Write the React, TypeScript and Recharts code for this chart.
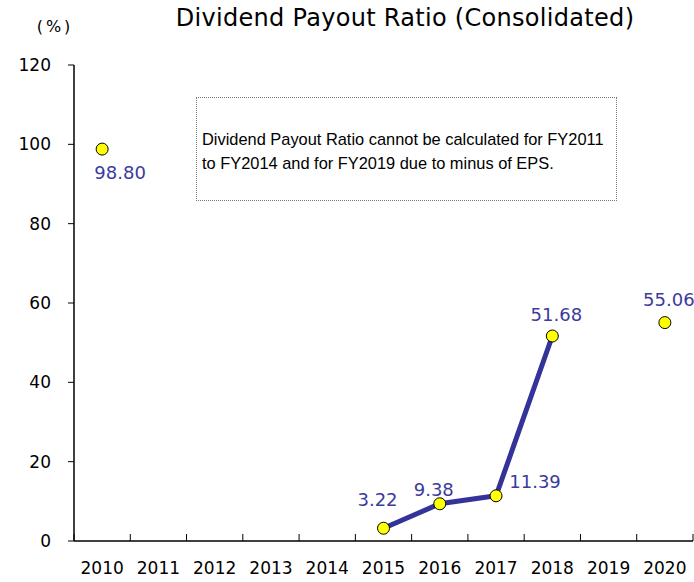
import React from 'react';
import { LineChart, Line, XAxis, YAxis, LabelList } from 'recharts';

const years = ['2010', '2011', '2012', '2013', '2014', '2015', '2016', '2017', '2018', '2019', '2020'];
const payoutRatio: (number | null)[] = [98.8, null, null, null, null, 3.22, 9.38, 11.39, 51.68, null, 55.06];
const payoutLabels = ['98.80', '', '', '', '', '3.22', '9.38', '11.39', '51.68', '', '55.06'];
const yTicks = [0, 20, 40, 60, 80, 100, 120];

// label placement relative to each point (styling, not data)
const labelOffsets: [number, number][] = [
  [18, 23], [0, 0], [0, 0], [0, 0], [0, 0],
  [-6, -29], [-6, -14], [39, -14], [4, -22], [0, 0], [4, -23],
];

const data = years.map((y, i) => ({ year: y, value: payoutRatio[i], label: payoutLabels[i] }));

const TICK_FONT = 'DejaVu Sans, sans-serif';

const XTick = (props: any) => {
  const { x, y, payload, index } = props;
  const half = payload && payload.offset ? payload.offset : 28;
  const axisY = y - 8;
  return (
    <g>
      <line x1={x - half} x2={x - half} y1={axisY} y2={axisY - 7} stroke="#000" strokeWidth={1} />
      {index === years.length - 1 && (
        <line x1={x + half} x2={x + half} y1={axisY} y2={axisY - 7} stroke="#000" strokeWidth={1} />
      )}
      <text x={x} y={axisY + 27} textAnchor="middle" dominantBaseline="central" fontFamily={TICK_FONT} fontSize={17} fill="#000">
        {payload.value}
      </text>
    </g>
  );
};

const renderLabel = (props: any) => {
  const { x, y, index } = props;
  const txt = payoutLabels[index];
  if (!txt || payoutRatio[index] == null) return null;
  const [dx, dy] = labelOffsets[index];
  return (
    <text x={x + dx} y={y + dy} textAnchor="middle" dominantBaseline="central" fontFamily={TICK_FONT} fontSize={18} fill="#3b3b9e">
      {txt}
    </text>
  );
};

export default function App() {
  return (
    <div style={{ position: 'absolute', left: 0, top: 0, width: 694, height: 582, background: '#fff' }}>
      <div style={{ position: 'absolute', left: 0, width: 810, top: 2, textAlign: 'center', fontFamily: TICK_FONT, fontSize: 24, letterSpacing: 0.3, color: '#000', lineHeight: '32px' }}>
        Dividend Payout Ratio (Consolidated)
      </div>
      <div style={{ position: 'absolute', left: 0, width: 110, top: 14, textAlign: 'center', fontFamily: TICK_FONT, fontSize: 16, letterSpacing: 3, color: '#000', lineHeight: '26px' }}>
        (%)
      </div>
      <LineChart width={694} height={582} data={data} margin={{ top: 65, right: 1, bottom: 0, left: 0 }}>
        <XAxis dataKey="year" type="category" scale="band" height={41} axisLine={{ stroke: '#000', strokeWidth: 1.5 }} tickLine={false} tick={<XTick />} interval={0} />
        <YAxis
          type="number"
          domain={[0, 120]}
          ticks={yTicks}
          width={74}
          axisLine={{ stroke: '#000', strokeWidth: 1.5 }}
          tickLine={{ stroke: '#000' }}
          tickSize={6}
          tickMargin={17}
          tick={{ fontFamily: TICK_FONT, fontSize: 17, fill: '#000' }}
          interval={0}
        />
        <Line
          dataKey="value"
          stroke="#333399"
          strokeWidth={5}
          dot={{ r: 6, fill: '#ffff00', stroke: '#000', strokeWidth: 1 }}
          activeDot={false}
          isAnimationActive={false}
        >
          <LabelList dataKey="value" content={renderLabel} />
        </Line>
      </LineChart>
      <div
        style={{
          position: 'absolute', left: 196, top: 97, width: 421, height: 104, boxSizing: 'border-box',
          border: '1px dotted #777', fontFamily: 'Liberation Sans, Arial, sans-serif', fontSize: 16.4, color: '#000',
          paddingLeft: 5, paddingTop: 29, lineHeight: '24px', whiteSpace: 'nowrap',
        }}
      >
        <div>Dividend Payout Ratio cannot be calculated for FY2011</div>
        <div>to FY2014 and for FY2019 due to minus of EPS.</div>
      </div>
    </div>
  );
}
